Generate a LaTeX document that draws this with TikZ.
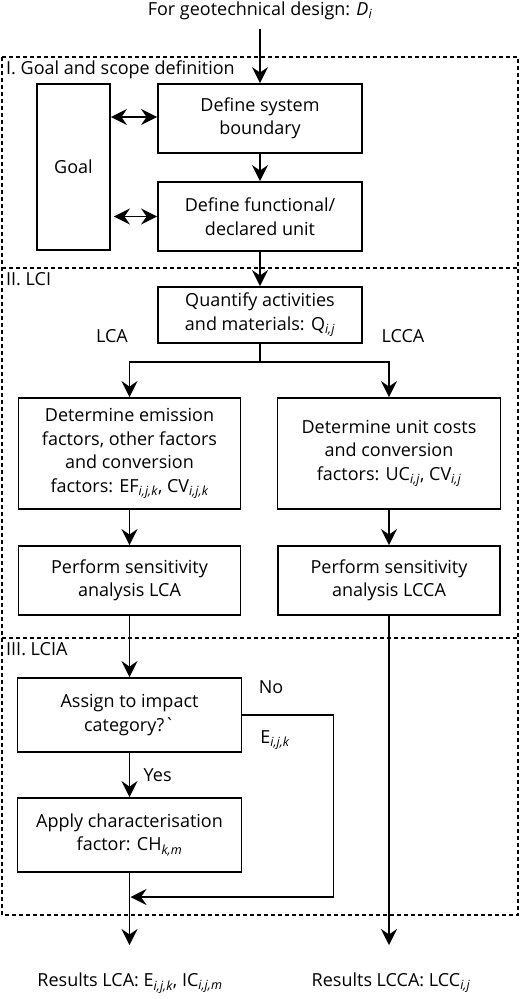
\documentclass[tikz,border=0pt]{standalone}
\usepackage{fontspec}
\setmainfont{Open Sans}
\usetikzlibrary{arrows.meta,positioning}
\newcommand{\idx}[1]{\textsubscript{\itshape #1}}

\begin{document}
\begin{tikzpicture}[
      x=1pt, y=-1pt,
      every node/.style={font=\fontsize{18}{23.5}\selectfont},
      box/.style 2 args={draw, line width=1.9pt, align=center, inner sep=0pt,
        minimum width=#1, minimum height=#2},
      phase/.style={line width=1.6pt, dash pattern=on 4pt off 3pt},
      tip/.tip={Stealth[length=16pt,width=16pt,inset=5.5pt]},
      flow/.style={line width=1.8pt, -tip},
      both/.style={line width=1.8pt, tip-tip}
    ]
    \useasboundingbox (0,0) rectangle (520,999);
    % phases
    \draw[phase] (2,57) rectangle (518,915);
    \foreach \pline in {268,638}{%
      \draw[phase] (2,\pline) -- (518,\pline);
    }
    \foreach \ptop/\pname/\ptext in {57/I/I. Goal and scope definition,268/II/II. LCI,638/III/III. LCIA}{%
      \node[anchor=north west, inner sep=0pt] (ph\pname) at (6,\ptop+4) {\ptext};
    }
    \node (top) at (260,11) {For geotechnical design: \textit{D}\idx{i}};
    % I
    \node[box={73pt}{166pt}] (goal) at (73.5,167) {Goal};
    \node[box={204pt}{69pt}] (sys) at (260,118.5) {Define system\\boundary};
    \node[box={204pt}{69pt}] (func) at (260,216.5) {Define functional/\\declared unit};
    % II
    \node[box={204pt}{56pt}] (quant) at (260,315) {Quantify activities\\and materials: Q\idx{i,j}};
    \node (lca) at (112,336) {LCA};
    \node (lcca) at (403,336) {LCCA};
    \coordinate (split) at (260,362);
    \node[box={222pt}{111pt}] (emis) at (129.5,453.5) {Determine emission\\factors, other factors\\and conversion\\factors: EF\idx{i,j,k}, CV\idx{i,j,k}};
    \node[box={223pt}{111pt}] (unit) at (389,453.5) {Determine unit costs\\and conversion\\factors: UC\idx{i,j}, CV\idx{i,j}};
    \node[box={222pt}{69pt}] (sensA) at (129.5,580.5) {Perform sensitivity\\analysis LCA};
    \node[box={222pt}{69pt}] (sensC) at (389,580.5) {Perform sensitivity\\analysis LCCA};
    % III
    \node[box={224pt}{74pt}] (assign) at (129.5,715) {Assign to impact\\category?\textasciigrave};
    \node[box={224pt}{74pt}] (apply) at (129.5,835) {Apply characterisation\\factor: CH\idx{k,m}};
    \node (no) at (271,687) {No};
    \node (eijk) at (275,740) {E\idx{i,j,k}};
    \coordinate (merge) at (130.5,897);
    \coordinate (endA) at (129.5,945);
    \coordinate (endC) at (389,945);
    \node (resA) at (130,983) {Results LCA: E\idx{i,j,k}, IC\idx{i,j,m}};
    \node (resC) at (391,983) {Results LCCA: LCC\idx{i,j}};
    % connectors
    \draw[flow, shorten <=5pt] (top) -- (sys);
    \draw[both] (goal.east |- 0,117) -- (sys.west |- 0,117);
    \draw[both] ([xshift=3pt]goal.east |- func.west) -- (func.west);
    \draw[flow] (sys) -- (func);
    \draw[flow] (func) -- (quant);
    \draw[line width=1.8pt] (quant) -- (split);
    \draw[flow] (split) -| (emis);
    \draw[flow] (split) -| (unit);
    \draw[flow] (emis) -- (sensA);
    \draw[flow] (unit) -- (sensC);
    \draw[flow] (sensA) -- (assign);
    \draw[flow] (sensC) -- (endC);
    \draw[flow] (assign) -- node[anchor=west, xshift=10pt] (yes) {Yes} (apply);
    \draw[flow] (assign.east) -- ++(91,0) |- (merge);
    \draw[flow] (apply) -- (endA);
  \end{tikzpicture}
\end{document}
